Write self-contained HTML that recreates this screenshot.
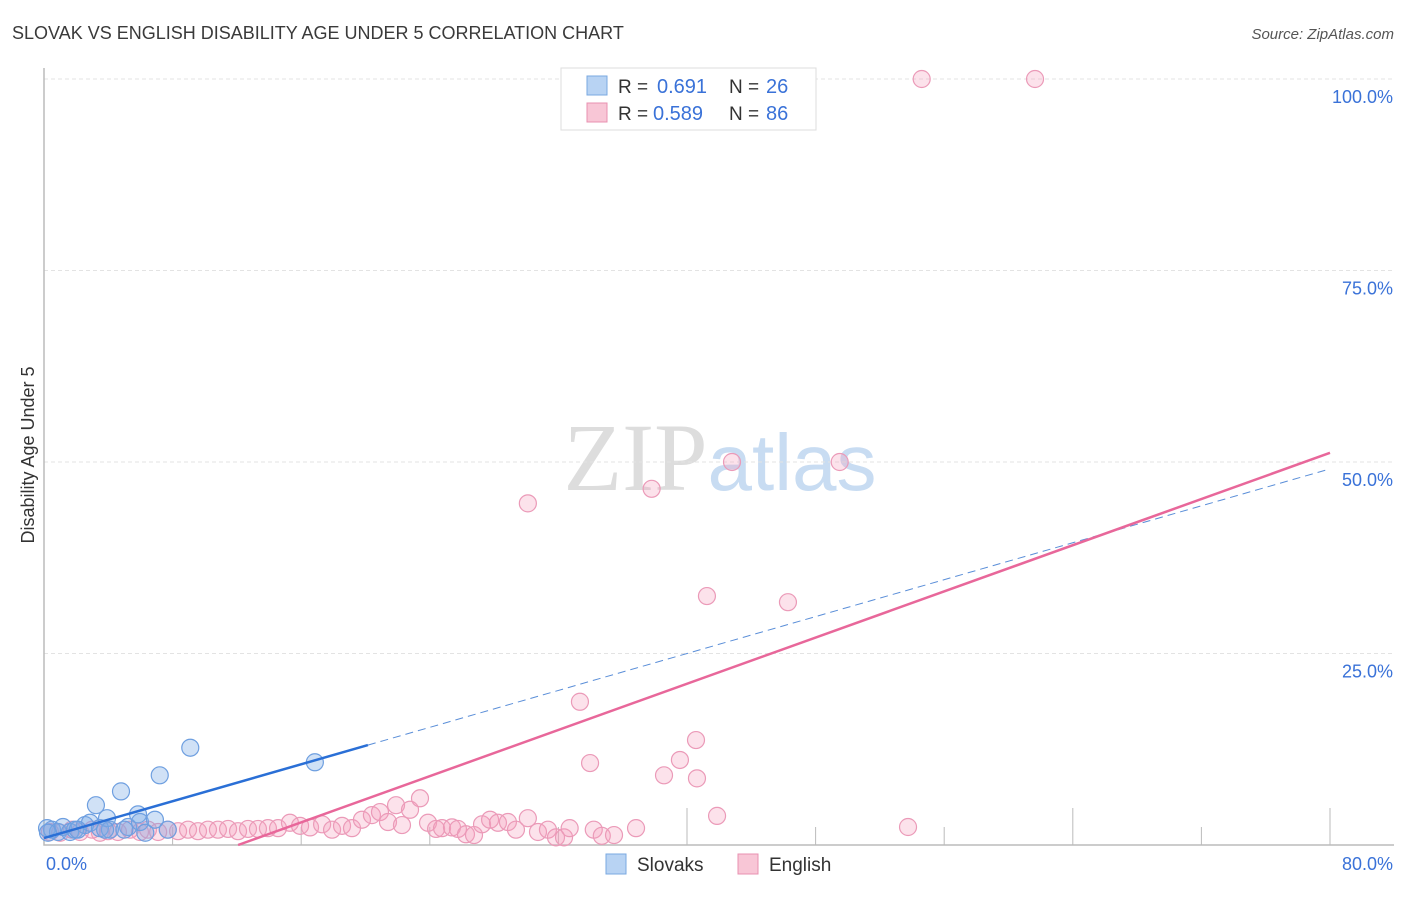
<!DOCTYPE html>
<html><head><meta charset="utf-8"><style>
body{margin:0;background:#fff;font-family:"Liberation Sans",sans-serif;}
</style></head><body>
<svg id="chart" width="1406" height="892" xmlns="http://www.w3.org/2000/svg" font-family="Liberation Sans, sans-serif">
<text x="12" y="39" font-size="18" fill="#3a3a3a">SLOVAK VS ENGLISH DISABILITY AGE UNDER 5 CORRELATION CHART</text>
<text x="1394" y="39" font-size="15" fill="#555" text-anchor="end" font-style="italic">Source: ZipAtlas.com</text>
<text x="720" y="490" font-size="96" text-anchor="middle" fill="#ddd" font-family="Liberation Serif, serif">ZIP<tspan fill="#c8dcf2" font-family="Liberation Sans, sans-serif" font-size="80">atlas</tspan></text>
<text transform="translate(34,455) rotate(-90)" font-size="18" fill="#333" text-anchor="middle">Disability Age Under 5</text>
<g id="grid"></g><g id="axes"></g><g id="pts"></g><g id="lines"></g>
<g>
<rect x="561" y="68" width="255" height="62" fill="#fff" stroke="#ddd"/>
<rect x="587" y="76" width="20" height="19" fill="#b8d3f3" stroke="#7aa8e0"/>
<text x="618" y="93" font-size="19" fill="#333">R =</text>
<text x="657" y="93" font-size="20" fill="#3a72d8">0.691</text>
<text x="729" y="93" font-size="19" fill="#333">N =</text>
<text x="766" y="93" font-size="20" fill="#3a72d8">26</text>
<rect x="587" y="103" width="20" height="19" fill="#f8c6d6" stroke="#e890b0"/>
<text x="618" y="120" font-size="19" fill="#333">R =</text>
<text x="653" y="120" font-size="20" fill="#3a72d8">0.589</text>
<text x="729" y="120" font-size="19" fill="#333">N =</text>
<text x="766" y="120" font-size="20" fill="#3a72d8">86</text>
</g>
<g>
<rect x="606" y="854" width="20" height="20" fill="#b8d3f3" stroke="#7aa8e0"/>
<text x="637" y="871" font-size="19" fill="#333">Slovaks</text>
<rect x="738" y="854" width="20" height="20" fill="#f8c6d6" stroke="#e890b0"/>
<text x="769" y="871" font-size="19" fill="#333">English</text>
</g>
</svg>
<script>
const yTicks=[25,50,75,100];
const yTickLabels=["25.0%","50.0%","75.0%","100.0%"];
const xTickLabels=["0.0%","80.0%"];
const slovakX=[0.19,0.5,0.87,1.18,1.62,1.93,2.55,2.86,3.23,3.48,3.92,4.1,4.79,5.23,5.85,5.97,6.9,7.2,7.7,9.1,16.85,0.25,2.1,5.0,3.8,6.3];
const slovakY=[2.2,2.0,1.7,2.35,1.7,2.0,2.6,2.9,5.2,2.2,3.5,2.0,7.0,2.35,4.0,3.0,3.3,9.1,2.0,12.7,10.8,1.6,2.0,2.0,2.0,1.6];
const englishX=[0.37,1.0,1.74,2.24,3.0,3.48,3.98,4.6,5.35,5.97,6.47,7.1,7.7,8.34,8.96,9.58,10.2,10.82,11.45,12.07,12.69,13.31,13.93,14.56,15.3,15.93,16.55,17.3,17.92,18.54,19.16,19.78,20.4,20.9,21.4,21.9,22.27,22.77,23.39,23.89,24.39,24.76,25.38,25.75,26.25,26.75,27.25,27.75,28.24,28.86,29.36,30.1,30.73,31.35,31.85,32.35,32.7,34.2,34.7,35.46,36.83,30.1,33.34,33.97,37.8,38.57,39.56,40.56,40.62,41.24,41.87,42.8,46.28,49.5,53.75,54.6,61.65];
const englishY=[1.7,1.6,2.0,1.7,2.0,1.6,1.8,1.7,2.0,1.7,2.0,1.7,2.0,1.8,2.0,1.8,2.0,2.0,2.1,1.8,2.1,2.1,2.2,2.2,2.9,2.5,2.3,2.7,2.0,2.5,2.2,3.3,3.9,4.3,3.0,5.2,2.6,4.6,6.1,2.9,2.1,2.2,2.3,2.1,1.4,1.3,2.7,3.3,2.9,3.0,2.0,3.5,1.7,2.0,1.0,1.0,2.2,2.0,1.2,1.3,2.2,44.6,18.7,10.7,46.5,9.1,11.1,13.7,8.7,32.5,3.8,50.0,31.7,50.0,2.35,100,100];
const slovakTrend=[0.9,0.6025,20.15];
const englishTrend=[-9.1,0.7537];
const NS="http://www.w3.org/2000/svg";
const X=v=>44+v*(1286/80), Y=v=>845-v*7.66;
function mk(tag,attrs,parent){const e=document.createElementNS(NS,tag);for(const k in attrs)e.setAttribute(k,attrs[k]);parent.appendChild(e);return e;}
const grid=document.getElementById('grid'),axes=document.getElementById('axes'),pts=document.getElementById('pts'),lines=document.getElementById('lines');
yTicks.forEach((t,i)=>{
 const l=mk('line',{x1:44,x2:1394,y1:Y(t),y2:Y(t),stroke:'#e3e3e3','stroke-dasharray':'4,3'},grid);
 
 
 const tx=mk('text',{x:1393,y:Y(t)+24,'font-size':18,fill:'#3a72d8','text-anchor':'end'},axes);
 tx.textContent=yTickLabels[i];
 
 
});
const ax=mk('path',{d:'M44,68 V845 H1394',fill:'none',stroke:'#bbb','stroke-width':1.5},axes);


const tall=[5,8,10];
for(let i=1;i<=10;i++){const x=44+i*128.6;const tk=mk('line',{x1:x,x2:x,y1:tall.includes(i)?808:827,y2:845,stroke:'#bbb'},axes);
 
 }
[[0,46,'start'],[80,1393,'end']].forEach((d,i)=>{const t=mk('text',{x:d[1],y:870,'font-size':18,fill:'#3a72d8','text-anchor':d[2]},axes);t.textContent=xTickLabels[i];
 
 });
englishX.forEach((x,i)=>{const c=mk('circle',{cx:X(x),cy:Y(englishY[i]),r:8.5,fill:'rgba(244,160,190,0.3)',stroke:'#eb9ab8','stroke-width':1.2},pts);
 
 });
slovakX.forEach((x,i)=>{const c=mk('circle',{cx:X(x),cy:Y(slovakY[i]),r:8.5,fill:'rgba(120,170,230,0.35)',stroke:'#6e9fe0','stroke-width':1.2},pts);
 
 });
const sb=slovakTrend;
const l1=mk('line',{x1:X(0),y1:Y(sb[0]),x2:X(sb[2]),y2:Y(sb[0]+sb[1]*sb[2]),stroke:'#2a6fd6','stroke-width':2.5},lines);


const l2=mk('line',{x1:X(sb[2]),y1:Y(sb[0]+sb[1]*sb[2]),x2:X(80),y2:Y(sb[0]+sb[1]*80),stroke:'#5a8ed8','stroke-width':1,'stroke-dasharray':'8,5'},lines);


const e0=-englishTrend[0]/englishTrend[1];
const l3=mk('line',{x1:X(e0),y1:Y(0),x2:X(80),y2:Y(englishTrend[0]+englishTrend[1]*80),stroke:'#e8679a','stroke-width':2.5},lines);


</script>
</body></html>
